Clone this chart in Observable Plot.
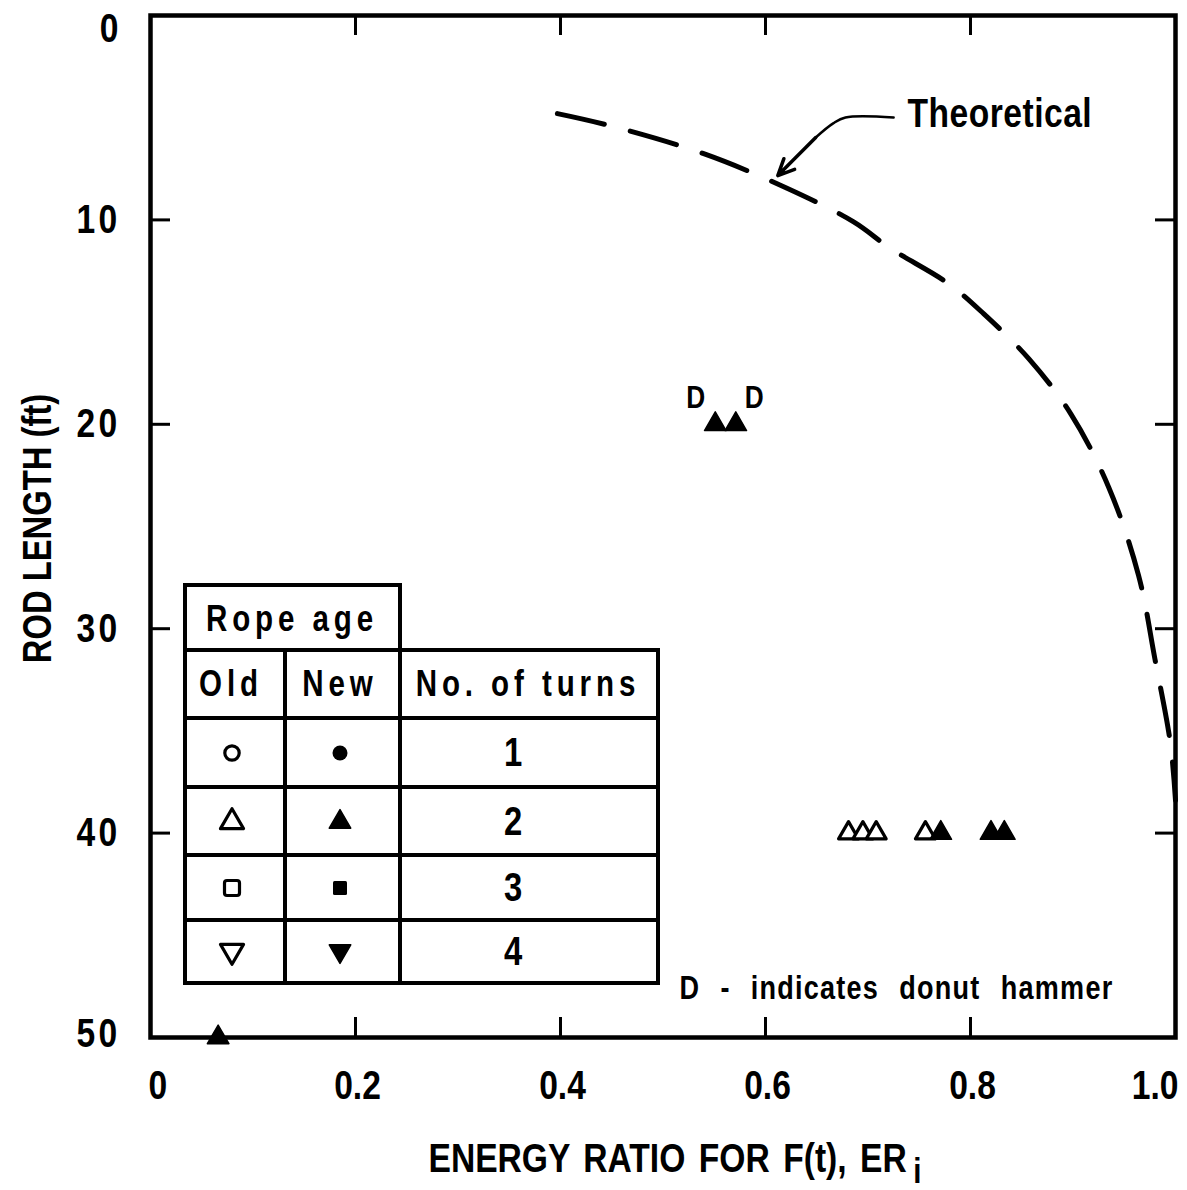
<!DOCTYPE html>
<html>
<head>
<meta charset="utf-8">
<script src="https://cdn.jsdelivr.net/npm/d3@7"></script>
<script src="https://cdn.jsdelivr.net/npm/@observablehq/plot@0.6"></script>
<style>
  html, body { margin: 0; padding: 0; background: white; }
  #wrap { position: relative; width: 1187px; height: 1190px; overflow: hidden; }
  #wrap svg.plot { position: absolute; left: 0; top: 0; }
  .cell { position: absolute; box-sizing: border-box; border: 4px solid black; background: white;
          display: flex; align-items: center; justify-content: center;
          font-family: "Liberation Sans", Arial, sans-serif;
          font-weight: bold; font-size: 36px; letter-spacing: 6px; color: black; }
  .cell .t { display: inline-block; transform: scaleX(0.82); white-space: nowrap; }
</style>
</head>
<body>
<div id="wrap"></div>
<script>
// ---------------- DATA ----------------
const xTicks = [0, 0.2, 0.4, 0.6, 0.8, 1.0];
const xTickLabels = ["0", "0.2", "0.4", "0.6", "0.8", "1.0"];
const yTicks = [0, 10, 20, 30, 40, 50];
const yTickLabels = ["0", "10", "20", "30", "40", "50"];

// Theoretical curve (energy ratio vs rod length)
const theoryER = [0.397, 0.449, 0.539, 0.621, 0.686, 0.722, 0.778, 0.813, 0.857, 0.898, 0.935, 0.964, 0.980, 0.995, 1.0];
const theoryLen = [4.8, 5.4, 6.75, 8.45, 10.1, 11.4, 13.1, 14.6, 16.8, 19.5, 23.1, 27.4, 31.5, 35.6, 38.4];

// Measured points
const pointER    = [0.551, 0.571, 0.681, 0.695, 0.708, 0.756, 0.771, 0.820, 0.833, 0.066];
const pointLen   = [20, 20, 40, 40, 40, 40, 40, 40, 40, 50];
const pointRope  = ["New", "New", "Old", "Old", "Old", "Old", "New", "New", "New", "New"];
const pointTurns = [2, 2, 2, 2, 2, 2, 2, 2, 2, 2];
const pointDonut = ["left", "right", "", "", "", "", "", "", "", ""];

// Legend table
const legendTurns = ["1", "2", "3", "4"];
const legendSymbols = ["circle", "triangle", "square", "triangle-down"];

// Texts
const xTitle = "ENERGY RATIO FOR F(t), ER";
const xTitleSub = "i";
const yTitle = "ROD LENGTH (ft)";
const theoryLabel = "Theoretical";
const donutNote = "D - indicates donut hammer";

// ---------------- LAYOUT ----------------
const FONT = '"Liberation Sans", Arial, sans-serif';
const NARROW = 0.82; // horizontal squeeze to mimic a condensed bold face
const W = 1187, H = 1190, ML = 150, MR = 12, MT = 15, MB = 153;
const plotW = W - ML - MR, plotH = H - MT - MB;
const TICK = 20;

const theory = theoryER.map((x, i) => ({x, y: theoryLen[i]}));
const points = pointER.map((x, i) => ({x, y: pointLen[i], rope: pointRope[i], turns: pointTurns[i], donut: pointDonut[i]}));
const xRows = xTicks.map((v, i) => ({v, label: xTickLabels[i]}));
const yRows = yTicks.map((v, i) => ({v, label: yTickLabels[i]}));
const nx = xRows.length, ny = yRows.length;

// annotation leader (Theoretical)
const leader = [{x: 0.725, y: 4.99}, {x: 0.678, y: 4.99}, {x: 0.666, y: 5.28}, {x: 0.649, y: 5.97}];

const txt = {fontFamily: FONT, fontWeight: "bold", fill: "black"};

const chart = Plot.plot({
  width: W, height: H,
  marginLeft: ML, marginRight: MR, marginTop: MT, marginBottom: MB,
  x: {domain: [0, 1], axis: null},
  y: {domain: [0, 50], reverse: true, axis: null},
  style: {fontFamily: FONT, background: "white", color: "black", overflow: "visible"},
  marks: [
    // inward ticks on all four sides
    Plot.ruleX(xTicks, {x: d => d, insetTop: plotH - TICK, stroke: "black", strokeWidth: 3}),
    Plot.ruleX(xTicks, {x: d => d, insetBottom: plotH - TICK, stroke: "black", strokeWidth: 3}),
    Plot.ruleY(yTicks, {y: d => d, insetRight: plotW - TICK, stroke: "black", strokeWidth: 3}),
    Plot.ruleY(yTicks, {y: d => d, insetLeft: plotW - TICK, stroke: "black", strokeWidth: 3}),
    Plot.frame({stroke: "black", strokeWidth: 4.5}),

    // x tick labels
    Plot.text(xRows.slice(0, 1), {x: "v", text: "label", frameAnchor: "bottom", dy: 61, dx: -2, textAnchor: "start", fontSize: 41, ...txt}),
    Plot.text(xRows.slice(1, nx - 1), {x: "v", text: "label", frameAnchor: "bottom", dy: 61, dx: 2, textAnchor: "middle", fontSize: 41, ...txt}),
    Plot.text(xRows.slice(nx - 1), {x: "v", text: "label", frameAnchor: "bottom", dy: 61, dx: 3, textAnchor: "end", fontSize: 41, ...txt}),
    // y tick labels
    Plot.text(yRows.slice(0, 1), {y: "v", text: "label", frameAnchor: "left", dx: -32, dy: -3, textAnchor: "end", lineAnchor: "top", fontSize: 41, ...txt}),
    Plot.text(yRows.slice(1, ny - 1), {y: "v", text: "label", frameAnchor: "left", dx: -30, textAnchor: "end", lineAnchor: "middle", fontSize: 41, ...txt}),
    Plot.text(yRows.slice(ny - 1), {y: "v", text: "label", frameAnchor: "left", dx: -30, dy: -4, textAnchor: "end", lineAnchor: "middle", fontSize: 41, ...txt}),

    // axis titles
    Plot.text([xTitle], {frameAnchor: "bottom", dy: 134, dx: 12, textAnchor: "middle", text: d => d, fontSize: 41, ...txt}),
    Plot.text([yTitle], {frameAnchor: "left", dx: -112, dy: 2, rotate: -90, textAnchor: "middle", lineAnchor: "middle", text: d => d, fontSize: 40, ...txt}),

    // theoretical curve
    Plot.line(theory, {x: "x", y: "y", curve: "catmull-rom", stroke: "black", strokeWidth: 5,
      strokeDasharray: "48,27", strokeLinecap: "round"}),

    // annotation for theoretical curve
    Plot.line(leader, {x: "x", y: "y", curve: "catmull-rom", stroke: "black", strokeWidth: 2.5}),
    Plot.arrow([0], {x1: 0.649, y1: 5.97, x2: 0.612, y2: 7.83, headLength: 18, headAngle: 50, stroke: "black", strokeWidth: 3.5}),
    Plot.text([theoryLabel], {x: 0.7385, y: 4.8, text: d => d, textAnchor: "start", fontSize: 41, ...txt}),

    // measured points: old rope (open), new rope (filled)
    Plot.dot(points.filter(d => d.rope === "Old"), {x: "x", y: "y", symbol: "triangle", r: 7.4,
      fill: "white", stroke: "black", strokeWidth: 3.2, strokeLinejoin: "round"}),
    Plot.dot(points.filter(d => d.rope === "New"), {x: "x", y: "y", symbol: "triangle", r: 8,
      fill: "black", stroke: "black", strokeWidth: 1.5, strokeLinejoin: "round"}),

    // donut hammer marks
    Plot.text(points.filter(d => d.donut === "left"), {x: "x", y: "y", text: () => "D", dx: -10, dy: -27, textAnchor: "end", fontSize: 32, ...txt}),
    Plot.text(points.filter(d => d.donut === "right"), {x: "x", y: "y", text: () => "D", dx: 9, dy: -27, textAnchor: "start", fontSize: 32, ...txt}),
    Plot.text([donutNote], {x: 0.516, y: 47.6, text: d => d, textAnchor: "start", fontSize: 33, ...txt})
  ]
});
chart.classList.add("plot");
const wrap = document.getElementById("wrap");
wrap.appendChild(chart);

// extra spacing styles on specific texts (before squeezing)
const extraStyle = new Map([
  [donutNote, {"letter-spacing": "1.5px", "word-spacing": "14px"}],
  [xTitle, {"word-spacing": "5px"}],
  [theoryLabel, {"letter-spacing": "0.6px"}],
  ...yTickLabels.slice(1).map(l => [l, {"letter-spacing": "4px"}])
]);
d3.select(chart).selectAll("text").each(function() {
  const st = extraStyle.get(this.textContent);
  if (st) for (const k in st) this.style.setProperty(k, st[k]);
});

// subscript "i" on x title
d3.select(chart).selectAll("text").filter(function() { return this.textContent === xTitle; })
  .append("tspan").attr("dx", 8).attr("dy", 11).attr("font-size", 36).text(xTitleSub);

// squeeze all SVG texts horizontally (condensed look)
d3.select(chart).selectAll("text").each(function() {
  const t = this.getAttribute("transform") || "";
  this.setAttribute("transform", (t + ` scale(${NARROW},1)`).trim());
});

// ---------------- LEGEND TABLE (overlay) ----------------
function symbolSvg(kind, filled) {
  const s = 34;
  let shape;
  if (kind === "circle") {
    shape = filled ? `<circle cx="17" cy="17" r="7.5" fill="black"/>`
                   : `<circle cx="17" cy="17" r="7.2" fill="white" stroke="black" stroke-width="3.2"/>`;
  } else if (kind === "square") {
    shape = filled ? `<rect x="10" y="10" width="14" height="14" rx="1.5" fill="black"/>`
                   : `<rect x="9.5" y="9.5" width="15" height="15" rx="2.5" fill="white" stroke="black" stroke-width="3.2"/>`;
  } else {
    const p = d3.symbol(d3.symbolTriangle, filled ? 200 : 230)();
    const rot = kind === "triangle-down" ? 180 : 0;
    const cy = kind === "triangle-down" ? 16 : 18;
    shape = filled ? `<path d="${p}" transform="translate(17,${cy}) rotate(${rot})" fill="black" stroke="black" stroke-width="1.5" stroke-linejoin="round"/>`
                   : `<path d="${p}" transform="translate(17,${cy}) rotate(${rot})" fill="white" stroke="black" stroke-width="3.2" stroke-linejoin="round"/>`;
  }
  return `<svg width="${s}" height="${s}" viewBox="0 0 ${s} ${s}">${shape}</svg>`;
}
function cell(x0, y0, x1, y1, html, extra) {
  const d = document.createElement("div");
  d.className = "cell";
  d.style.left = (x0 - 2) + "px";
  d.style.top = (y0 - 2) + "px";
  d.style.width = (x1 - x0 + 4) + "px";
  d.style.height = (y1 - y0 + 4) + "px";
  if (extra) Object.assign(d.style, extra);
  d.innerHTML = html;
  wrap.appendChild(d);
}
const T = s => `<span class="t">${s}</span>`;
const cols = [185, 285, 400, 658];
const rows = [650, 718, 787, 855, 920, 983];
cell(185, 585, 400, 650, T("Rope age"), {paddingTop: "2px"});
cell(cols[0], rows[0], cols[1], rows[1], T("Old"), {paddingRight: "8px"});
cell(cols[1], rows[0], cols[2], rows[1], T("New"), {paddingRight: "4px"});
cell(cols[2], rows[0], cols[3], rows[1], T("No. of turns"), {paddingRight: "2px"});
legendTurns.forEach((t, i) => {
  cell(cols[0], rows[i + 1], cols[1], rows[i + 2], symbolSvg(legendSymbols[i], false), {paddingRight: "6px"});
  cell(cols[1], rows[i + 1], cols[2], rows[i + 2], symbolSvg(legendSymbols[i], true), {paddingRight: "6px"});
  cell(cols[2], rows[i + 1], cols[3], rows[i + 2], T(t), {fontSize: "40px", letterSpacing: "0", paddingRight: "32px"});
});
</script>
</body>
</html>
